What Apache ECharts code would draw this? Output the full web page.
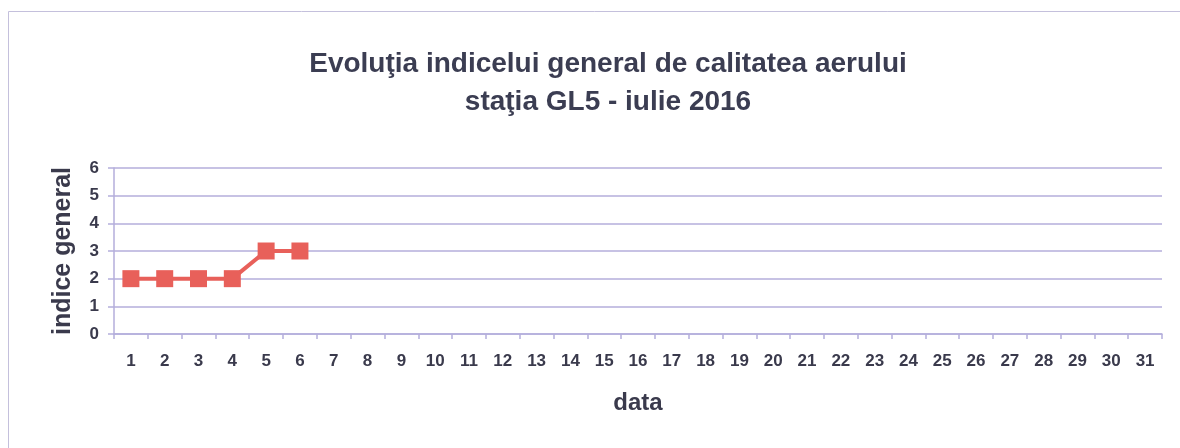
<!DOCTYPE html>
<html>
<head>
<meta charset="utf-8">
<script src="https://cdn.jsdelivr.net/npm/echarts@6/dist/echarts.min.js"></script>
<style>
  html, body { margin: 0; padding: 0; background: #fff; }
  #grafico { width: 1180px; height: 448px; }
</style>
</head>
<body>
<div id="grafico"></div>
<script>
// zilele lunii iulie 2016
var zile = [];
for (let i = 1; i <= 31; i++) zile.push(String(i));

// indicele general (doar primele 6 zile au valori)
var indice = [2, 2, 2, 2, 3, 3];

var yTicks = [0, 1, 2, 3, 4, 5, 6];

var dom = document.getElementById('grafico');
var myChart = echarts.init(dom, null, { renderer: 'canvas' });

var axisColor = '#b4aedb';
var textColor = '#3a3a4c';

var option = {
    backgroundColor: '#fff',
    animation: false,
    title: {
        text: 'Evoluţia indicelui general de calitatea aerului\nstaţia GL5 - iulie 2016',
        left: 603,
        textAlign: 'center',
        top: 40,
        textStyle: {
            fontFamily: 'Liberation Sans',
            fontSize: 28,
            fontWeight: 'bold',
            color: '#3b3d52',
            lineHeight: 38
        }
    },
    graphic: [
        {
            type: 'rect',
            shape: { x: 8.5, y: 11.5, width: 1200, height: 500 },
            style: { fill: 'none', stroke: '#c4c0dc', lineWidth: 1 }
        }
    ],
    grid: {
        left: 114,
        right: 18,
        top: 168,
        bottom: 114,
        containLabel: false
    },
    xAxis: {
        type: 'category',
        data: zile,
        boundaryGap: true,
        name: 'data',
        nameLocation: 'middle',
        nameGap: 57,
        nameTextStyle: {
            fontFamily: 'Liberation Sans',
            fontSize: 24,
            fontWeight: 'bold',
            color: textColor
        },
        axisLine: { lineStyle: { color: axisColor, width: 1.5 } },
        axisTick: { show: true, length: 5, alignWithLabel: false, lineStyle: { color: axisColor, width: 1.5 } },
        axisLabel: {
            margin: 19,
            fontFamily: 'Liberation Sans',
            fontSize: 17,
            fontWeight: 'bold',
            color: textColor
        }
    },
    yAxis: {
        type: 'value',
        min: yTicks[0],
        max: yTicks[yTicks.length - 1],
        interval: 1,
        name: 'indice general',
        nameLocation: 'middle',
        nameGap: 38,
        nameTextStyle: {
            fontFamily: 'Liberation Sans',
            fontSize: 25,
            fontWeight: 'bold',
            color: textColor
        },
        axisLine: { show: true, lineStyle: { color: axisColor, width: 1.5 } },
        axisTick: { show: true, length: 6, lineStyle: { color: axisColor, width: 1.5 } },
        axisLabel: {
            margin: 15,
            fontFamily: 'Liberation Sans',
            fontSize: 17,
            fontWeight: 'bold',
            color: textColor
        },
        splitLine: { show: true, lineStyle: { color: axisColor, width: 1.5 } }
    },
    series: [
        {
            name: 'indice general',
            type: 'line',
            data: indice,
            symbol: 'rect',
            symbolSize: 17,
            lineStyle: { color: '#e8605a', width: 4 },
            itemStyle: { color: '#e8605a' }
        }
    ]
};

myChart.setOption(option);
window.addEventListener('resize', myChart.resize);
</script>
</body>
</html>
